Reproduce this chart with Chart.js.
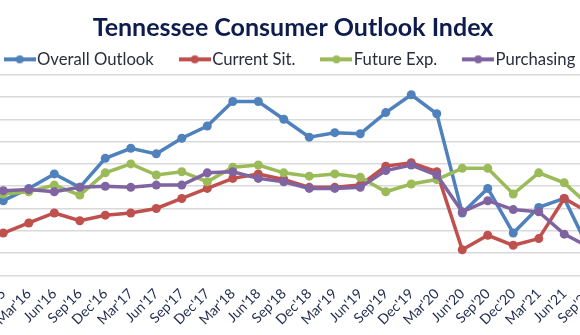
<!DOCTYPE html>
<html>
<head>
<meta charset="utf-8">
<script src="https://cdn.jsdelivr.net/npm/chart.js@4"></script>
<style>
  html, body { margin: 0; padding: 0; background: #fff; }
  #wrap { position: relative; width: 580px; height: 335px; overflow: hidden; }
  #chart { position: absolute; left: -50px; top: 0; }
</style>
</head>
<body>
<div id="wrap"><canvas id="chart" width="680" height="335"></canvas></div>
<script>
// quarterly readings, Dec'15 .. Sep'21
const quarters = ["Dec'15", "Mar'16", "Jun'16", "Sep'16", "Dec'16", "Mar'17", "Jun'17", "Sep'17",
  "Dec'17", "Mar'18", "Jun'18", "Sep'18", "Dec'18", "Mar'19", "Jun'19", "Sep'19",
  "Dec'19", "Mar'20", "Jun'20", "Sep'20", "Dec'20", "Mar'21", "Jun'21", "Sep'21"];
const overallOutlook = [7, 18, 31, 19, 45, 54, 49, 63, 74, 96, 96, 80, 64, 68, 67, 86, 102, 85, -4, 18, -22, 1, 9, -38];
const currentSit = [-22, -13, -4, -11, -6, -4, 0, 9, 18, 27, 31, 26, 19, 19, 21, 38, 41, 33, -37, -24, -33, -27, 9, -4];
const futureExp = [13, 15, 21, 12, 32, 40, 30, 33, 24, 37, 39, 32, 29, 31, 28, 15, 22, 26, 36, 36, 13, 32, 23, 2];
const purchasing = [16, 17, 15, 19, 20, 19, 21, 21, 32, 33, 27, 24, 18, 18, 19, 34, 39, 30, -3, 7, -1, -3, -23, -35];

const seriesNames = ['Overall Outlook', 'Current Sit.', 'Future Exp.', 'Purchasing'];
const seriesColors = ['#4F81BD', '#C0504D', '#9BBB59', '#8064A2'];

// legend marker: short line with a dot, like Excel
function lineMarker(color) {
  const c = document.createElement('canvas');
  c.width = 32; c.height = 10;
  const g = c.getContext('2d');
  g.strokeStyle = color; g.lineWidth = 4;
  g.beginPath(); g.moveTo(0, 5); g.lineTo(32, 5); g.stroke();
  g.fillStyle = color;
  g.beginPath(); g.arc(16, 5, 4, 0, Math.PI * 2); g.fill();
  return c;
}
const markers = seriesColors.map(lineMarker);

function makeSet(i, values, order) {
  return {
    label: seriesNames[i],
    data: values,
    borderColor: seriesColors[i],
    backgroundColor: seriesColors[i],
    borderWidth: 3.5,
    pointRadius: 4.5,
    pointBorderWidth: 0,
    pointBackgroundColor: seriesColors[i],
    tension: 0,
    order: order   // purple drawn on top, blue at the bottom
  };
}

new Chart(document.getElementById('chart'), {
  type: 'line',
  data: {
    labels: quarters,
    datasets: [
      makeSet(0, overallOutlook, 3),
      makeSet(1, currentSit, 2),
      makeSet(2, futureExp, 1),
      makeSet(3, purchasing, 0)
    ]
  },
  options: {
    responsive: false,
    animation: false,
    layout: { padding: { left: 24.55, right: 18.5, top: 0, bottom: 0 } },
    plugins: {
      title: {
        display: true,
        text: 'Tennessee Consumer Outlook Index',
        color: '#0e1b4d',
        font: { family: 'Lato', size: 25, weight: 'bold', lineHeight: 1.2 },
        padding: { top: 13, bottom: -24 }
      },
      legend: {
        display: true,
        maxHeight: 55.7,
        labels: {
          usePointStyle: true,
          pointStyleWidth: 18,
          padding: 32,
          color: '#2a2d3e',
          font: { family: 'Lato', size: 16.7 },
          sort: (a, b) => a.datasetIndex - b.datasetIndex,
          generateLabels: (chart) => {
            const items = Chart.defaults.plugins.legend.labels.generateLabels(chart);
            items.forEach(it => { it.pointStyle = markers[it.datasetIndex]; });
            return items;
          }
        }
      },
      tooltip: { enabled: false }
    },
    scales: {
      x: {
        offset: true,
        grid: { display: false, drawTicks: false },
        border: { display: false },
        ticks: {
          autoSkip: false,
          maxRotation: 45,
          minRotation: 45,
          padding: 10,
          color: '#1f2a4d',
          font: { family: 'Lato', size: 14 }
        },
        afterFit: (s) => { s.height = 59.6; }
      },
      y: {
        min: -60,
        max: 120,
        ticks: { display: false, stepSize: 20 },
        grid: { color: '#d9d9d9', lineWidth: 1.5, drawTicks: false },
        border: { display: false },
        afterFit: (s) => { s.width = 16; }
      },
      yRight: {
        position: 'right',
        display: true,
        ticks: { display: false },
        grid: { display: false, drawTicks: false },
        border: { display: false },
        afterFit: (s) => { s.width = 9; }
      }
    }
  }
});
</script>
</body>
</html>
